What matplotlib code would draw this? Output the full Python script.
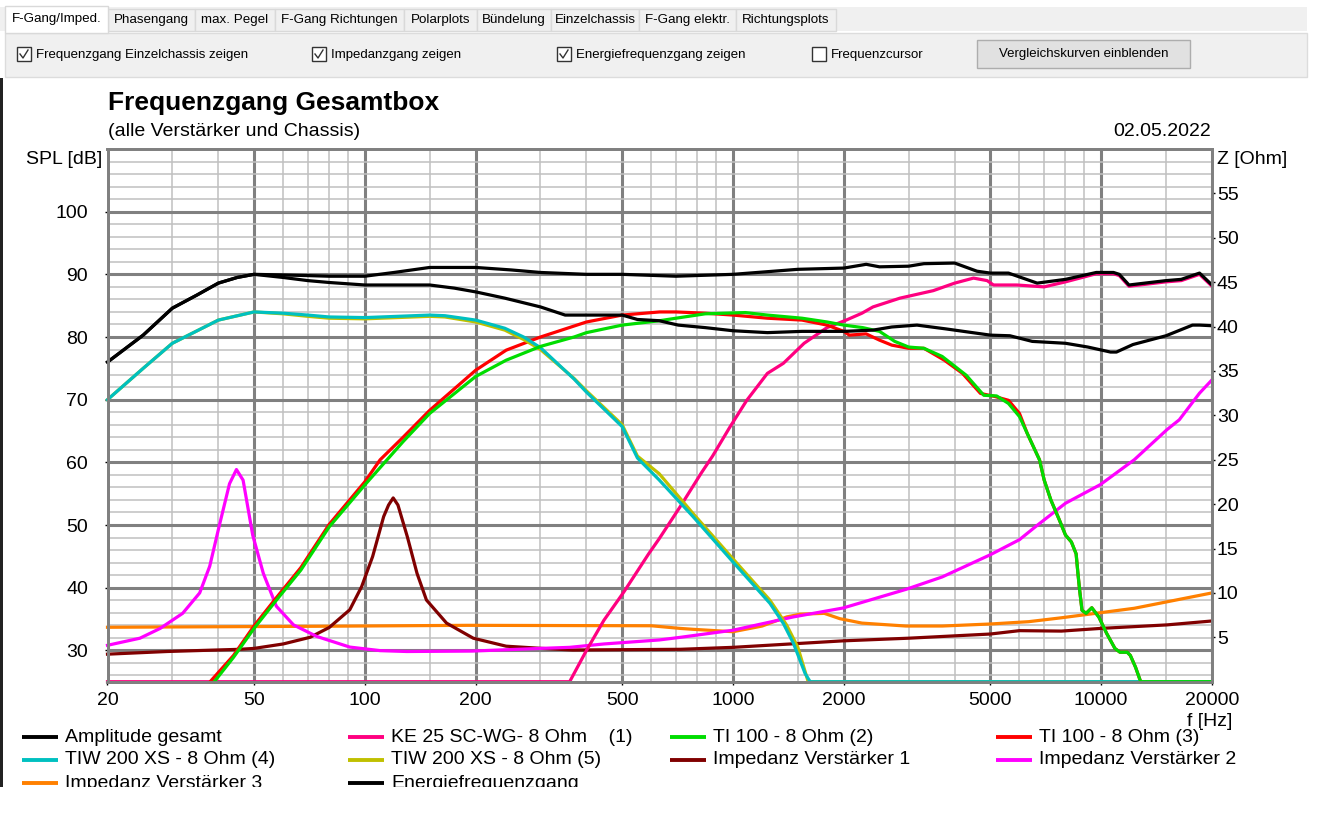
import matplotlib.pyplot as plt
from matplotlib.patches import Rectangle
from matplotlib.ticker import NullFormatter

plt.rcParams['font.family'] = ['Liberation Sans', 'DejaVu Sans']

# ---- values: f [Hz], SPL [dB], Z [Ohm] ----
amp_f = [20, 25, 30, 35, 40, 45, 50, 60, 70, 80, 100, 120, 150, 200, 250, 300, 400, 500, 700,
         1000, 1500, 2000, 2300, 2500, 3000, 3300, 4000, 4600, 5000, 5600, 6700, 8000, 9700,
         10800, 11200, 11900, 15000, 16500, 18500, 20000]
amp_db = [76.0, 80.3, 84.6, 86.7, 88.6, 89.5, 90.0, 89.9, 89.8, 89.7, 89.7, 90.3, 91.1, 91.1, 90.7,
          90.3, 90.0, 90.0, 89.7, 90.0, 90.8, 91.0, 91.6, 91.2, 91.3, 91.7, 91.8, 90.5, 90.2, 90.2,
          88.6, 89.2, 90.3, 90.3, 90.0, 88.3, 89.0, 89.2, 90.2, 88.3]

energy_f = [20, 25, 30, 35, 40, 45, 50, 60, 70, 80, 100, 150, 175, 200, 240, 300, 350, 400, 500,
            550, 630, 710, 840, 1000, 1240, 1540, 2000, 2400, 2700, 3160, 3780, 5000, 5650, 6500,
            8000, 9200, 10600, 11000, 12200, 15000, 17700, 18500, 20000]
energy_db = [76.0, 80.3, 84.6, 86.7, 88.6, 89.5, 90.0, 89.5, 89.0, 88.7, 88.3, 88.3, 87.8, 87.2,
             86.2, 84.8, 83.5, 83.5, 83.5, 82.8, 82.6, 81.9, 81.5, 81.0, 80.7, 80.9, 80.9, 81.1,
             81.6, 81.9, 81.3, 80.3, 80.2, 79.3, 79.0, 78.4, 77.6, 77.6, 78.8, 80.2, 81.9, 81.9, 81.8]

ke25_f = [20, 360, 400, 446, 505, 590, 630, 720, 820, 880, 920, 980, 1090, 1240, 1370, 1560, 1800,
          2030, 2240, 2400, 2840, 3500, 4000, 4500, 4900, 5100, 5900, 7000, 8000, 9700, 10800,
          11200, 11900, 15000, 16500, 18500, 20000]
ke25_db = [25, 25, 30.0, 34.8, 39.3, 45.4, 47.8, 53.0, 58.3, 61.0, 62.9, 65.6, 69.9, 74.2, 75.8,
           79.0, 81.5, 82.7, 83.8, 84.8, 86.2, 87.4, 88.6, 89.4, 89.0, 88.3, 88.3, 88.0, 88.8, 90.1,
           90.1, 89.8, 88.1, 88.8, 89.0, 90.0, 88.1]

ti2_f = [39, 44, 50, 57.5, 67, 80, 100, 127, 150, 200, 242, 300, 370, 400, 500, 632, 700, 840,
         1080, 1240, 1540, 1800, 2000, 2250, 2500, 2750, 3000, 3300, 3700, 4300, 4800, 5200, 5600,
         6000, 6300, 6800, 7000, 7300, 7700, 8000, 8300, 8550, 8650, 8740, 8870, 9100, 9430, 9860,
         10350, 10900, 11250, 11770, 12000, 12400, 12800, 20000]
ti2_db = [25.0, 28.9, 33.5, 38.0, 42.8, 49.7, 56.4, 63.3, 67.8, 73.7, 76.3, 78.5, 80.0, 80.7, 81.9,
          82.6, 83.0, 83.7, 83.9, 83.5, 83.0, 82.4, 81.9, 81.5, 80.9, 79.3, 78.4, 78.2, 76.9, 73.9,
          70.7, 70.6, 69.4, 67.3, 64.6, 60.4, 57.2, 54.0, 50.8, 48.4, 47.3, 45.4, 42.2, 39.6, 36.4,
          35.9, 36.8, 35.3, 32.7, 30.3, 29.7, 29.7, 29.2, 27.3, 25.0, 25.0]

ti3_f = [38, 44, 50, 57.5, 67, 80, 100, 110, 127, 150, 200, 242, 300, 400, 500, 632, 700, 840,
         1000, 1240, 1540, 1800, 2000, 2070, 2300, 2500, 2700, 3000, 3300, 3750, 4200, 4700, 5150,
         5600, 6000, 6300, 6800, 7000, 7300, 7700, 8000, 8300, 8550, 8650, 8740, 8870, 9100, 9430,
         9860, 10350, 10900, 11250, 11770, 12000, 12400, 12800, 20000]
ti3_db = [25.0, 29.2, 33.9, 38.4, 43.2, 50.1, 56.9, 60.4, 64.0, 68.3, 74.7, 77.9, 80.0, 82.4, 83.5,
          84.0, 84.0, 83.8, 83.5, 83.0, 82.7, 81.9, 80.9, 80.3, 80.5, 79.5, 78.7, 78.2, 78.2, 76.3,
          74.2, 71.0, 70.5, 69.9, 67.8, 64.6, 60.4, 57.2, 54.0, 50.8, 48.4, 47.3, 45.4, 42.2, 39.6,
          36.4, 35.9, 36.8, 35.3, 32.7, 30.3, 29.7, 29.7, 29.2, 27.3, 25.0, 25.0]

tiw4_f = [20, 25, 30, 40, 50, 60, 70, 80, 100, 150, 165, 200, 240, 270, 300, 370, 400, 500, 550,
          630, 780, 1000, 1260, 1370, 1460, 1570, 1620, 20000]
tiw4_db = [70.0, 75.0, 79.0, 82.7, 84.0, 83.8, 83.5, 83.2, 83.1, 83.5, 83.4, 82.7, 81.4, 80.0, 78.3,
           73.3, 71.2, 65.7, 60.7, 57.2, 51.3, 44.1, 37.5, 34.3, 31.1, 26.3, 25.0, 25.0]

tiw5_f = [20, 25, 30, 40, 50, 60, 70, 80, 100, 150, 165, 200, 240, 270, 300, 370, 400, 500, 550,
          630, 780, 1000, 1260, 1400, 1500, 1600, 20000]
tiw5_db = [70.0, 75.0, 79.0, 82.7, 84.0, 83.7, 83.3, 83.0, 82.9, 83.3, 83.2, 82.4, 81.1, 79.6, 78.0,
           73.4, 71.4, 66.0, 61.0, 58.2, 51.8, 44.6, 38.0, 34.0, 30.5, 25.0, 25.0]

amp1_f = [20, 29, 45.8, 50, 60, 71, 80, 91, 98, 105, 112.5, 116, 119.4, 123, 130.5, 138.6, 147,
          166.7, 197, 242, 300, 367, 720, 1000, 1990, 3000, 5000, 6000, 7800, 9950, 15100, 20000]
amp1_z = [3.1, 3.4, 3.65, 3.75, 4.25, 5.0, 6.1, 8.1, 10.7, 14.1, 18.6, 19.9, 20.7, 19.9, 16.3, 12.2,
          9.2, 6.6, 4.9, 4.0, 3.76, 3.57, 3.65, 3.87, 4.6, 4.9, 5.37, 5.75, 5.7, 6.0, 6.4, 6.84]

amp2_f = [20, 24.5, 27.8, 32, 35.6, 37.9, 40.2, 42.9, 44.8, 46.7, 49.6, 53, 57.5, 64, 74, 91, 110,
          130, 196, 300, 360, 446, 630, 720, 1000, 1460, 1990, 2950, 3700, 5000, 6000, 6650, 8000,
          9950, 12300, 15100, 16300, 18500, 20000]
amp2_z = [4.1, 4.9, 6.0, 7.7, 10.0, 13.0, 17.5, 22.3, 23.9, 22.7, 16.5, 12.2, 8.5, 6.4, 5.1, 3.9,
          3.5, 3.4, 3.45, 3.75, 3.87, 4.25, 4.7, 5.0, 5.8, 7.3, 8.3, 10.4, 11.8, 14.3, 16.0, 17.5,
          20.1, 22.2, 25.0, 28.4, 29.5, 32.5, 34.0]

amp3_f = [20, 80, 190, 600, 720, 780, 1000, 1200, 1400, 1520, 1770, 1950, 2240, 2950, 3700, 5000,
          6350, 7800, 9950, 12300, 15100, 20000]
amp3_z = [6.13, 6.25, 6.35, 6.3, 6.0, 5.9, 5.63, 6.27, 7.3, 7.6, 7.7, 7.1, 6.6, 6.27, 6.27, 6.5,
          6.76, 7.2, 7.77, 8.27, 9.0, 10.0]

freq_ticks = [20, 50, 100, 200, 500, 1000, 2000, 5000, 10000, 20000]
freq_minor = [30, 40, 60, 70, 80, 90, 150, 300, 400, 600, 700, 800, 900, 1500, 3000, 4000,
              6000, 7000, 8000, 9000, 15000]
spl_ticks = [30, 40, 50, 60, 70, 80, 90, 100]
z_ticks = [5, 10, 15, 20, 25, 30, 35, 40, 45, 50, 55]

tabs = ['F-Gang/Imped.', 'Phasengang', 'max. Pegel', 'F-Gang Richtungen', 'Polarplots',
        'Bündelung', 'Einzelchassis', 'F-Gang elektr.', 'Richtungsplots']
tab_edges = [5, 108, 195, 275, 404, 477, 551, 639, 736, 836]
checks = [('Frequenzgang Einzelchassis zeigen', 17, True), ('Impedanzgang zeigen', 312, True),
          ('Energiefrequenzgang zeigen', 557, True), ('Frequenzcursor', 812, False)]

W, H = 1322, 816
fig = plt.figure(figsize=(W / 100, H / 100), dpi=100)

# pixel canvas for the window parts around the chart
gui = fig.add_axes([0, 0, 1, 1], zorder=0)
gui.set_xlim(0, W)
gui.set_ylim(H, 0)
gui.axis('off')

gui.add_patch(Rectangle((0, 7), 1307, 24, fc='#f0f0f0', ec='none'))
for i, name in enumerate(tabs):
    x0, x1 = tab_edges[i], tab_edges[i + 1]
    sel = i == 0
    gui.add_patch(Rectangle((x0, 6 if sel else 9), x1 - x0, 27 if sel else 22,
                            fc='white' if sel else '#f0f0f0', ec='#d9d9d9', lw=1, zorder=2 if sel else 1))
    gui.text((x0 + x1) / 2, 19 if sel else 20, name, ha='center', va='center', fontsize=9.6, zorder=3)
gui.add_patch(Rectangle((5, 33), 1302, 44, fc='#f0f0f0', ec='#dcdcdc', lw=1))
for label, x, on in checks:
    gui.add_patch(Rectangle((x, 47), 14, 14, fc='white', ec='#333333', lw=1, zorder=2))
    if on:
        gui.plot([x + 3, x + 6, x + 11], [54, 58, 50], color='#333333', lw=1, zorder=3)
    gui.text(x + 19, 55, label, ha='left', va='center', fontsize=9.5)
gui.add_patch(Rectangle((977, 40), 213, 28, fc='#e1e1e1', ec='#adadad', lw=1))
gui.text(1083.5, 54.5, 'Vergleichskurven einblenden', ha='center', va='center', fontsize=9.5)
gui.add_patch(Rectangle((0, 78), 2.5, 709, fc='#222222', ec='none'))

gui.text(108, 110, 'Frequenzgang Gesamtbox', ha='left', va='baseline', fontsize=19, fontweight='bold')
gui.text(108, 131, '(alle Verstärker und Chassis)', ha='left', va='center', fontsize=14)
gui.text(1211, 131, '02.05.2022', ha='right', va='center', fontsize=14)
gui.text(26, 160, 'SPL [dB]', ha='left', va='center', fontsize=14)
gui.text(1217, 160, 'Z [Ohm]', ha='left', va='center', fontsize=14)
gui.text(1210, 721, 'f [Hz]', ha='center', va='center', fontsize=14, zorder=1)

# chart
ax = fig.add_axes([107.5 / W, 1 - 681.7 / H, (1212 - 107.5) / W, (681.7 - 149) / H], zorder=1)
ax2 = ax.twinx()
ax.set_xscale('log')
ax.set_xlim(20, 20000)
ax.set_ylim(25, 110)
ax2.set_ylim(0, 60)

ax.set_xticks(freq_ticks)
ax.set_xticklabels([str(v) for v in freq_ticks])
ax.set_xticks(freq_minor, minor=True)
ax.xaxis.set_minor_formatter(NullFormatter())
ax.set_yticks(spl_ticks)
ax.set_yticks([v for v in range(26, 110, 2) if v % 10], minor=True)
ax2.set_yticks(z_ticks)

ax.set_axisbelow(True)
ax.grid(which='major', color='#808080', lw=2.2)
ax.grid(which='minor', color='#c0c0c0', lw=1.1)
ax.tick_params(which='minor', length=0)
ax.tick_params(axis='y', which='major', direction='out', length=2.5, width=1, pad=11.5, labelsize=14)
ax.tick_params(axis='x', which='major', direction='out', length=2.5, width=1, pad=5, labelsize=14)
ax2.tick_params(axis='y', direction='out', length=2.5, width=1, pad=1, labelsize=14)
for a in (ax, ax2):
    for s in a.spines.values():
        s.set_color('#808080')
        s.set_linewidth(2)

# impedance curves use the right-hand scale
zt = ax2.transData
lw = 2.3
ax.plot(amp3_f, amp3_z, color='#ff8000', lw=lw, transform=zt, clip_on=False, zorder=2.1)
ax.plot(amp1_f, amp1_z, color='#800000', lw=lw, transform=zt, clip_on=False, zorder=2.2)
ax.plot(amp2_f, amp2_z, color='#ff00ff', lw=lw, transform=zt, clip_on=False, zorder=2.3)
ax.plot(ke25_f, ke25_db, color='#ff0080', lw=lw, clip_on=False, zorder=2.4)
ax.plot(ti3_f, ti3_db, color='#ff0000', lw=lw, clip_on=False, zorder=2.5)
ax.plot(tiw5_f, tiw5_db, color='#c0c000', lw=lw, clip_on=False, zorder=2.6)
ax.plot(tiw4_f, tiw4_db, color='#00c0c0', lw=lw, clip_on=False, zorder=2.7)
ax.plot(ti2_f, ti2_db, color='#00dd00', lw=lw, clip_on=False, zorder=2.8)
ax.plot(energy_f, energy_db, color='black', lw=lw, clip_on=False, zorder=2.9)
ax.plot(amp_f, amp_db, color='black', lw=lw, clip_on=False, zorder=3)

# legend below the chart, 4 columns
legend = [('Amplitude gesamt', 'black'), ('KE 25 SC-WG- 8 Ohm    (1)', '#ff0080'),
          ('TI 100 - 8 Ohm (2)', '#00dd00'), ('TI 100 - 8 Ohm (3)', '#ff0000'),
          ('TIW 200 XS - 8 Ohm (4)', '#00c0c0'), ('TIW 200 XS - 8 Ohm (5)', '#c0c000'),
          ('Impedanz Verstärker 1', '#800000'), ('Impedanz Verstärker 2', '#ff00ff'),
          ('Impedanz Verstärker 3', '#ff8000'), ('Energiefrequenzgang', 'black')]
col_x = [22, 348, 670, 996]
row_y = [737, 760, 783]
for i, (label, c) in enumerate(legend):
    x, y = col_x[i % 4], row_y[i // 4]
    gui.plot([x, x + 36], [y, y], color=c, lw=2.8, solid_capstyle='butt', zorder=4)
    gui.text(x + 43, y, label, ha='left', va='center', fontsize=14, zorder=5,
             bbox=dict(fc='white', ec='none', pad=0.5))

# screenshot ends here
gui.add_patch(Rectangle((0, 787), W, H - 787, fc='white', ec='none', zorder=10))

fig.savefig('out.png', dpi=100)
